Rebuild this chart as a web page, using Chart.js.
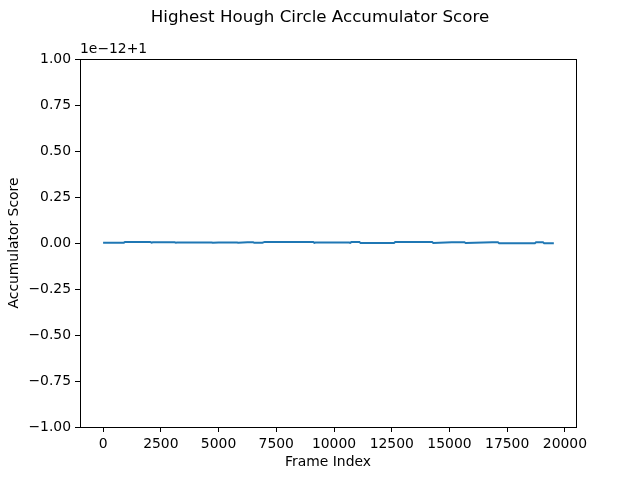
<!DOCTYPE html>
<html>
<head>
<meta charset="utf-8">
<script src="https://cdn.jsdelivr.net/npm/chart.js@4/dist/chart.umd.min.js"></script>
<style>
  html, body { margin: 0; padding: 0; background: #fff; }
  #wrap { width: 640px; height: 480px; }
</style>
</head>
<body>
<div id="wrap"><canvas id="chart" width="640" height="480"></canvas></div>
<script>
// Datos (valor - 1, en unidades de 1e-12)
var frames = [0, 900, 950, 2040, 2100, 2150, 3100, 3150, 3200, 4700, 4750, 5000, 5800, 5850,
              6250, 6500, 6550, 6900, 7000, 9100, 9150, 9200, 10650, 10700, 10750, 11100, 11150,
              12600, 12650, 14250, 14300, 15100, 15650, 15700, 16850, 17100, 17150, 18700, 18750,
              19050, 19100, 19520];
var scores = [0.002, 0.002, 0.006, 0.006, 0.002, 0.004, 0.004, 0.002, 0.003, 0.003, 0.001, 0.003, 0.003, 0.001,
              0.004, 0.004, 0.001, 0.002, 0.006, 0.006, 0.001, 0.003, 0.003, 0.001, 0.005, 0.005, 0.0,
              0.0, 0.005, 0.005, 0.0, 0.004, 0.004, 0.0, 0.004, 0.004, -0.001, -0.001, 0.004,
              0.004, -0.001, -0.001];
var yTicks = [-1, -0.75, -0.5, -0.25, 0, 0.25, 0.5, 0.75, 1];
var xTicks = [0, 2500, 5000, 7500, 10000, 12500, 15000, 17500, 20000];

var points = frames.map(function(f, i) { return { x: f, y: scores[i] }; });
var FONT = "DejaVu Sans";

// Titulo, texto de offset y marco completo
var extras = {
    id: "extras",
    afterDraw: function(chart) {
        var c = chart.ctx, a = chart.chartArea;
        c.save();
        c.strokeStyle = "#000";
        c.lineWidth = 1;
        c.strokeRect(Math.round(a.left) + 0.5, Math.round(a.top) + 0.5,
                     Math.round(a.right - a.left), Math.round(a.bottom - a.top));
        c.fillStyle = "#000";
        c.textAlign = "center";
        c.textBaseline = "alphabetic";
        c.font = "16.7px '" + FONT + "'";
        c.fillText("Highest Hough Circle Accumulator Score", 320, 22);
        c.textAlign = "left";
        c.font = "13.9px '" + FONT + "'";
        c.fillText("1e\u221212+1", a.left, 53);
        c.restore();
    }
};

var ctx = document.getElementById("chart").getContext("2d");
var chart = new Chart(ctx, {
    type: "line",
    data: {
        datasets: [{
            data: points,
            borderColor: "#1f77b4",
            borderWidth: 2,
            pointRadius: 0,
            tension: 0,
            fill: false
        }]
    },
    options: {
        responsive: false,
        animation: false,
        devicePixelRatio: 1,
        layout: { padding: { top: 59, right: 64, left: 0, bottom: 0 } },
        plugins: { legend: { display: false }, tooltip: { enabled: false } },
        scales: {
            x: {
                type: "linear",
                min: -1000,
                max: 20480,
                afterFit: function(s) { s.height = 53; },
                afterBuildTicks: function(s) { s.ticks = xTicks.map(function(v) { return { value: v }; }); },
                grid: { drawOnChartArea: false, drawTicks: true, tickLength: 5, color: "#000" },
                border: { display: true, color: "#000" },
                ticks: {
                    color: "#000",
                    padding: 4,
                    maxRotation: 0,
                    font: { family: FONT, size: 13.9 },
                    callback: function(v) { return String(v); }
                },
                title: {
                    display: true,
                    text: "Frame Index",
                    color: "#000",
                    font: { family: FONT, size: 13.9 },
                    padding: { top: 0, bottom: 9 }
                }
            },
            y: {
                min: -1,
                max: 1,
                afterFit: function(s) { s.width = 80; },
                afterBuildTicks: function(s) { s.ticks = yTicks.map(function(v) { return { value: v }; }); },
                grid: { drawOnChartArea: false, drawTicks: true, tickLength: 5, color: "#000" },
                border: { display: true, color: "#000" },
                ticks: {
                    color: "#000",
                    padding: 4,
                    font: { family: FONT, size: 13.9 },
                    callback: function(v) { return v.toFixed(2).replace("-", "\u2212"); }
                },
                title: {
                    display: true,
                    text: "Accumulator Score",
                    color: "#000",
                    font: { family: FONT, size: 13.9 },
                    padding: { top: 6, bottom: 0 }
                }
            }
        }
    },
    plugins: [extras]
});
</script>
</body>
</html>
